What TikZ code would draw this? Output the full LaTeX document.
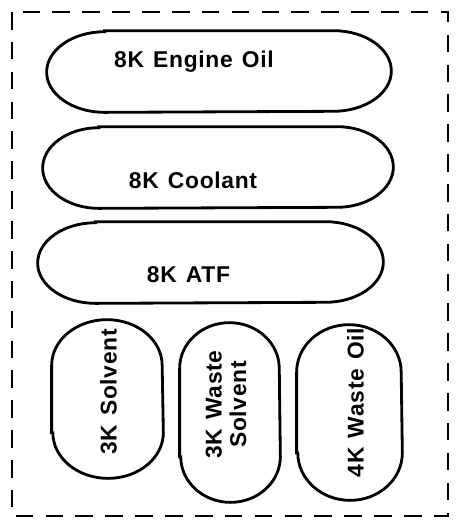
\documentclass[tikz,border=0pt]{standalone}
\usepackage{fontspec}
\setmainfont{Liberation Sans}
\newfontfamily\tankfont[LetterSpace=3,WordSpace=1.3]{Liberation Sans Bold}
\usepackage{tikz}
\usetikzlibrary{calc}
% outline of a lying tank: node, x radius, y radius of the ends
\newcommand{\lyingtank}[3]{%
  \draw[rim] ($(#1.north west)+(#2,0pt)$) -- ($(#1.north east)+(-#2,0pt)$)
    arc[start angle=90, end angle=-90, x radius=#2, y radius=#3]
    -- ($(#1.south west)+(#2,0pt)$)
    arc[start angle=270, end angle=90, x radius=#2, y radius=#3] -- cycle;}
% outline of a standing tank
\newcommand{\standingtank}[3]{%
  \draw[rim] ($(#1.south west)+(0pt,#3)$) -- ($(#1.north west)+(0pt,-#3)$)
    arc[start angle=180, end angle=0, x radius=#2, y radius=#3]
    -- ($(#1.south east)+(0pt,#3)$)
    arc[start angle=0, end angle=-180, x radius=#2, y radius=#3] -- cycle;}

\begin{document}
\begin{tikzpicture}[x=0.02cm, y=-0.02cm,
      tank/.style={inner sep=0pt},
      rim/.style={draw=black, line width=1.6pt},
      lbl/.style={font=\tankfont\fontsize{13}{14}\selectfont, align=center, inner sep=0pt},
      yard/.style={draw=black, line width=1.6pt, dash pattern=on 10pt off 7pt}]
    \useasboundingbox (0,0) rectangle (458,529);
    \draw[yard] (12,12) rectangle (448,516);
    \node[tank, minimum width=344*0.02cm, minimum height=81*0.02cm]  (oil)   at (219,71.5) {};
    \node[tank, minimum width=350*0.02cm, minimum height=81*0.02cm]  (cool)  at (218,167.5) {};
    \node[tank, minimum width=345*0.02cm, minimum height=81*0.02cm]  (atf)   at (210.5,262.5) {};
    \node[tank, minimum width=111*0.02cm, minimum height=158*0.02cm] (solv)  at (107.5,399) {};
    \node[tank, minimum width=100*0.02cm, minimum height=179*0.02cm] (wsolv) at (230,412.5) {};
    \node[tank, minimum width=105*0.02cm, minimum height=175*0.02cm] (woil)  at (349.5,412.5) {};
    \lyingtank{oil}{33pt}{22.95pt}
    \lyingtank{cool}{32pt}{22.95pt}
    \lyingtank{atf}{33pt}{22.95pt}
    \standingtank{solv}{31.45pt}{26pt}
    \standingtank{wsolv}{28.35pt}{26pt}
    \standingtank{woil}{29.75pt}{27pt}
    \node[lbl, anchor=base] (oiltxt)  at ($(oil.center)+(-25,-4.5)$) {8K Engine Oil};
    \node[lbl, anchor=base] (cooltxt) at ($(cool.center)+(-25,20.5)$) {8K Coolant};
    \node[lbl, anchor=base] (atftxt)  at ($(atf.center)+(-22,19.5)$)  {8K ATF};
    \node[lbl, rotate=90] (solvtxt)  at ($(solv.center)+(1,-7)$)   {3K Solvent};
    \node[lbl, rotate=90] (wsolvtxt) at ($(wsolv.center)+(-4,-8)$) {3K Waste\\Solvent};
    \node[lbl, rotate=90] (woiltxt)  at ($(woil.center)+(6,-10)$)  {4K Waste Oil};
  \end{tikzpicture}
\end{document}
